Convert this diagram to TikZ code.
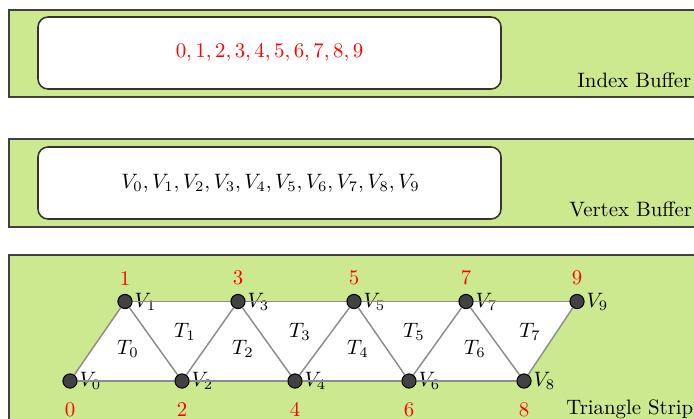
\documentclass[tikz,border=0pt]{standalone}
\usepackage{amsmath,amssymb}
\usepackage{tikz}
\usetikzlibrary{positioning}
\definecolor{panelgreen}{RGB}{205,233,144}
\definecolor{edgegray}{RGB}{140,140,140}
\definecolor{dotgray}{RGB}{66,66,66}

\begin{document}
\begin{tikzpicture}[x=.48pt,y=-.48pt,
  panel/.style={fill=panelgreen,draw=black!75,line width=.6pt},
  bufbox/.style={fill=white,draw=black!80,line width=.75pt,rounded corners=4.8pt},
  vtx/.style={circle,fill=dotgray,draw=black,line width=.5pt,inner sep=0pt,minimum size=6.8pt},
  vname/.style={inner sep=.8pt,label distance=0pt},
  idx/.style={text=red,inner sep=0pt},
  edge/.style={draw=edgegray,line width=.7pt},
  title/.style={anchor=base west,inner sep=0pt}]
\clip (0,0) rectangle (694,418);
% index buffer
\draw[panel] (9,10) rectangle (720,97);
\draw[bufbox] (38,17) rectangle (501,89);
\node[text=red] (ilist) at (269.5,53) {$0,1,2,3,4,5,6,7,8,9$};
\node[title] (ibuf) at (577,87) {Index Buffer};
% vertex buffer
\draw[panel] (9,139) rectangle (720,227);
\draw[bufbox] (38,147) rectangle (501,219);
\node (vlist) at (270.5,183) {$V_0,V_1,V_2,V_3,V_4,V_5,V_6,V_7,V_8,V_9$};
\node[title] (vbuf) at (569,216) {Vertex Buffer};
% triangle strip
\draw[panel] (9,255) rectangle (720,440);
\node[title] (tstrip) at (566,414) {Triangle Strip};
\coordinate (p0) at (70,381);
\coordinate (p1) at (125,301.5);
\coordinate (p8) at (524,381);
\coordinate (p9) at (577,301.5);
\fill[white] (p0)--(p1)--(p9)--(p8)--cycle;
\node[vtx,label={[vname]right:$V_0$}] (v0) at (p0) {};
\node[vtx,label={[vname]right:$V_1$}] (v1) at (p1) {};
\node[vtx,label={[vname]right:$V_2$}] (v2) at (182,381) {};
\node[vtx,label={[vname]right:$V_3$}] (v3) at (238,301.5) {};
\node[vtx,label={[vname]right:$V_4$}] (v4) at (295,381) {};
\node[vtx,label={[vname]right:$V_5$}] (v5) at (354,301.5) {};
\node[vtx,label={[vname]right:$V_6$}] (v6) at (409,381) {};
\node[vtx,label={[vname]right:$V_7$}] (v7) at (466,301.5) {};
\node[vtx,label={[vname]right:$V_8$}] (v8) at (p8) {};
\node[vtx,label={[vname]right:$V_9$}] (v9) at (p9) {};
\draw[edge] (v0)--(v2)--(v4)--(v6)--(v8);
\draw[edge] (v1)--(v3)--(v5)--(v7)--(v9);
\draw[edge] (v0)--(v1)--(v2)--(v3)--(v4)--(v5)--(v6)--(v7)--(v8)--(v9);
\node[idx,below=6.5pt of v0] (i0) {0};
\node[idx,above=4pt of v1] (i1) {1};
\node[idx,below=6.5pt of v2] (i2) {2};
\node[idx,above=4pt of v3] (i3) {3};
\node[idx,below=6.5pt of v4] (i4) {4};
\node[idx,above=4pt of v5] (i5) {5};
\node[idx,below=6.5pt of v6] (i6) {6};
\node[idx,above=4pt of v7] (i7) {7};
\node[idx,below=6.5pt of v8] (i8) {8};
\node[idx,above=4pt of v9] (i9) {9};
\node (t0) at (128,349) {$T_0$};
\node (t1) at (185,332) {$T_1$};
\node (t2) at (243,349) {$T_2$};
\node (t3) at (300,332) {$T_3$};
\node (t4) at (358,349) {$T_4$};
\node (t5) at (414,332) {$T_5$};
\node (t6) at (475,349) {$T_6$};
\node (t7) at (530,332) {$T_7$};
\end{tikzpicture}
\end{document}
